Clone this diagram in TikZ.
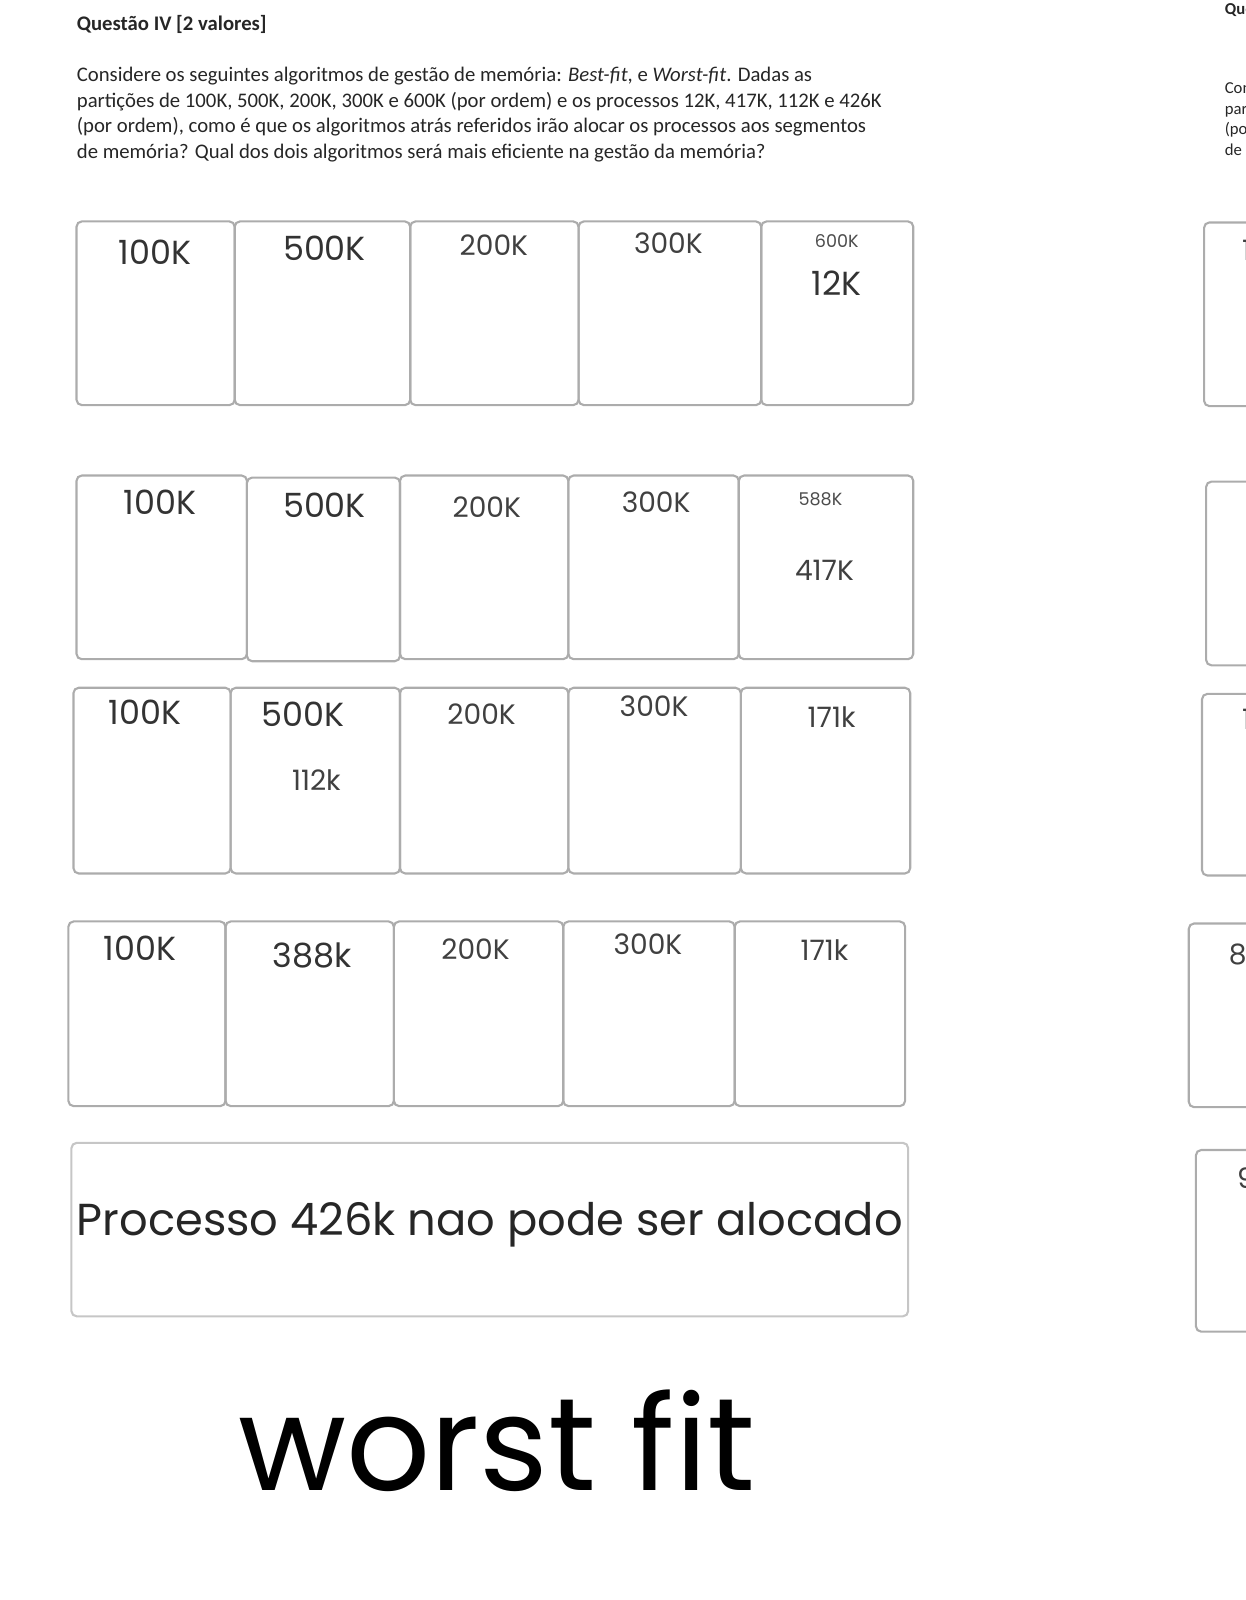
\documentclass[tikz,border=0pt]{standalone}
\usepackage{fontspec}
\setmainfont{Carlito}
\newfontfamily\handfont{Poppins}
\usepackage{tikz}
\usetikzlibrary{positioning}
\tikzset{
  cell/.style={draw=gray!65, line width=1.2pt, rounded corners=3pt},
  lblbig/.style={font=\handfont\fontsize{19}{19}\selectfont, text=black!80, inner sep=0pt},
  lblmid/.style={font=\handfont\fontsize{16}{16}\selectfont, text=black!75, inner sep=0pt},
  lblsm/.style={font=\handfont\fontsize{10}{10}\selectfont, text=black!70, inner sep=0pt},
  para/.style={anchor=base west, inner sep=0pt, text=black!85, font=\fontsize{11.8}{13}\selectfont},
  parasm/.style={anchor=base west, inner sep=0pt, text=black!85, font=\fontsize{9.5}{11}\selectfont},
}

\begin{document}
\begin{tikzpicture}[x=0.02041cm, y=-0.02041cm]
\useasboundingbox (0,0) rectangle (1221,1568);
\begin{scope}
\clip (0,0) rectangle (1221,1568);
% enunciado
\node[para, font=\bfseries\fontsize{11.8}{13}\selectfont] (qtitle) at (75,30) {Questão IV [2 valores]};
\node[para] (qline1) at (75,80) {Considere os seguintes algoritmos de gestão de memória: \textit{Best-fit}, e \textit{Worst-fit}. Dadas as};
\node[para] (qline2) at (75,105) {partições de 100K, 500K, 200K, 300K e 600K (por ordem) e os processos 12K, 417K, 112K e 426K};
\node[para] (qline3) at (75,130) {(por ordem), como é que os algoritmos atrás referidos irão alocar os processos aos segmentos};
\node[para] (qline4) at (75,155) {de memória? Qual dos dois algoritmos será mais eficiente na gestão da memória?};

% passo 1: 12K
\draw[cell] (75,217) rectangle (230,397);
\draw[cell] (230,217) rectangle (402,397);
\draw[cell] (402,217) rectangle (567,397);
\draw[cell] (567,217) rectangle (746,397);
\draw[cell] (746,217) rectangle (895,397);
\node[lblbig] (pa1) at (152,247) {100K};
\node[lblbig] (pa2) at (318,243) {500K};
\node[lblmid] (pa3) at (484,240) {200K};
\node[lblmid] (pa4) at (655,238) {300K};
\node[lblsm] (pa5) at (820,236) {600K};
\node[lblbig] (pa5p) at (820,278) {12K};

% passo 2: 417K
\draw[cell] (75,466) rectangle (242,646);
\draw[cell] (242,468) rectangle (392,648);
\draw[cell] (392,466) rectangle (557,646);
\draw[cell] (557,466) rectangle (724,646);
\draw[cell] (724,466) rectangle (895,646);
\node[lblbig] (pb1) at (157,492) {100K};
\node[lblbig] (pb2) at (318,495) {500K};
\node[lblmid] (pb3) at (477,497) {200K};
\node[lblmid] (pb4) at (643,492) {300K};
\node[lblsm] (pb5) at (804,489) {588K};
\node[lblmid] (pb5p) at (808,559) {417K};

% passo 3: 112K
\draw[cell] (72,674) rectangle (226,856);
\draw[cell] (226,674) rectangle (392,856);
\draw[cell] (392,674) rectangle (557,856);
\draw[cell] (557,674) rectangle (726,856);
\draw[cell] (726,674) rectangle (892,856);
\node[lblbig] (pc1) at (142,698) {100K};
\node[lblbig] (pc2) at (297,700) {500K};
\node[lblmid] (pc3) at (472,700) {200K};
\node[lblmid] (pc4) at (641,692) {300K};
\node[lblmid] (pc5) at (815,703) {171k};
\node[lblmid] (pc2p) at (310,764) {112k};

% passo 4
\draw[cell] (67,903) rectangle (221,1084);
\draw[cell] (221,903) rectangle (386,1084);
\draw[cell] (386,903) rectangle (552,1084);
\draw[cell] (552,903) rectangle (720,1084);
\draw[cell] (720,903) rectangle (887,1084);
\node[lblbig] (pd1) at (137,929) {100K};
\node[lblbig] (pd2) at (306,936) {388k};
\node[lblmid] (pd3) at (466,930) {200K};
\node[lblmid] (pd4) at (635,925) {300K};
\node[lblmid] (pd5) at (808,931) {171k};

% 426K
\draw[cell, draw=gray!45] (70,1120) rectangle (890,1290);
\node[font=\handfont\fontsize{25.5}{25.5}\selectfont, text=black!85, inner sep=0pt] (fail) at (480,1200) {Processo 426k nao pode ser alocado};

\node[font=\handfont\fontsize{75}{75}\selectfont, inner sep=0pt] (verdict) at (487,1412) {worst fit};

% pagina ao lado (cortada)
\node[parasm, font=\bfseries\fontsize{9.5}{11}\selectfont] (rtitle) at (1200,14) {Que};
\node[parasm] (rline1) at (1200,92) {Con};
\node[parasm] (rline2) at (1200,112) {par};
\node[parasm] (rline3) at (1200,132) {(po};
\node[parasm] (rline4) at (1200,152) {de m};
\draw[cell] (1180,218) rectangle (1300,398);
\draw[cell] (1182,472) rectangle (1300,652);
\draw[cell] (1178,680) rectangle (1300,858);
\draw[cell] (1165,905) rectangle (1300,1085);
\draw[cell] (1172,1127) rectangle (1300,1305);
\node[lblmid, anchor=west] (ra1) at (1217,245) {1};
\node[lblmid, anchor=west] (rc1) at (1217,705) {1};
\node[lblmid, anchor=west] (rd1) at (1204,935) {8};
\node[lblmid, anchor=west] (re1) at (1212,1155) {9};
\end{scope}
\end{tikzpicture}
\end{document}
